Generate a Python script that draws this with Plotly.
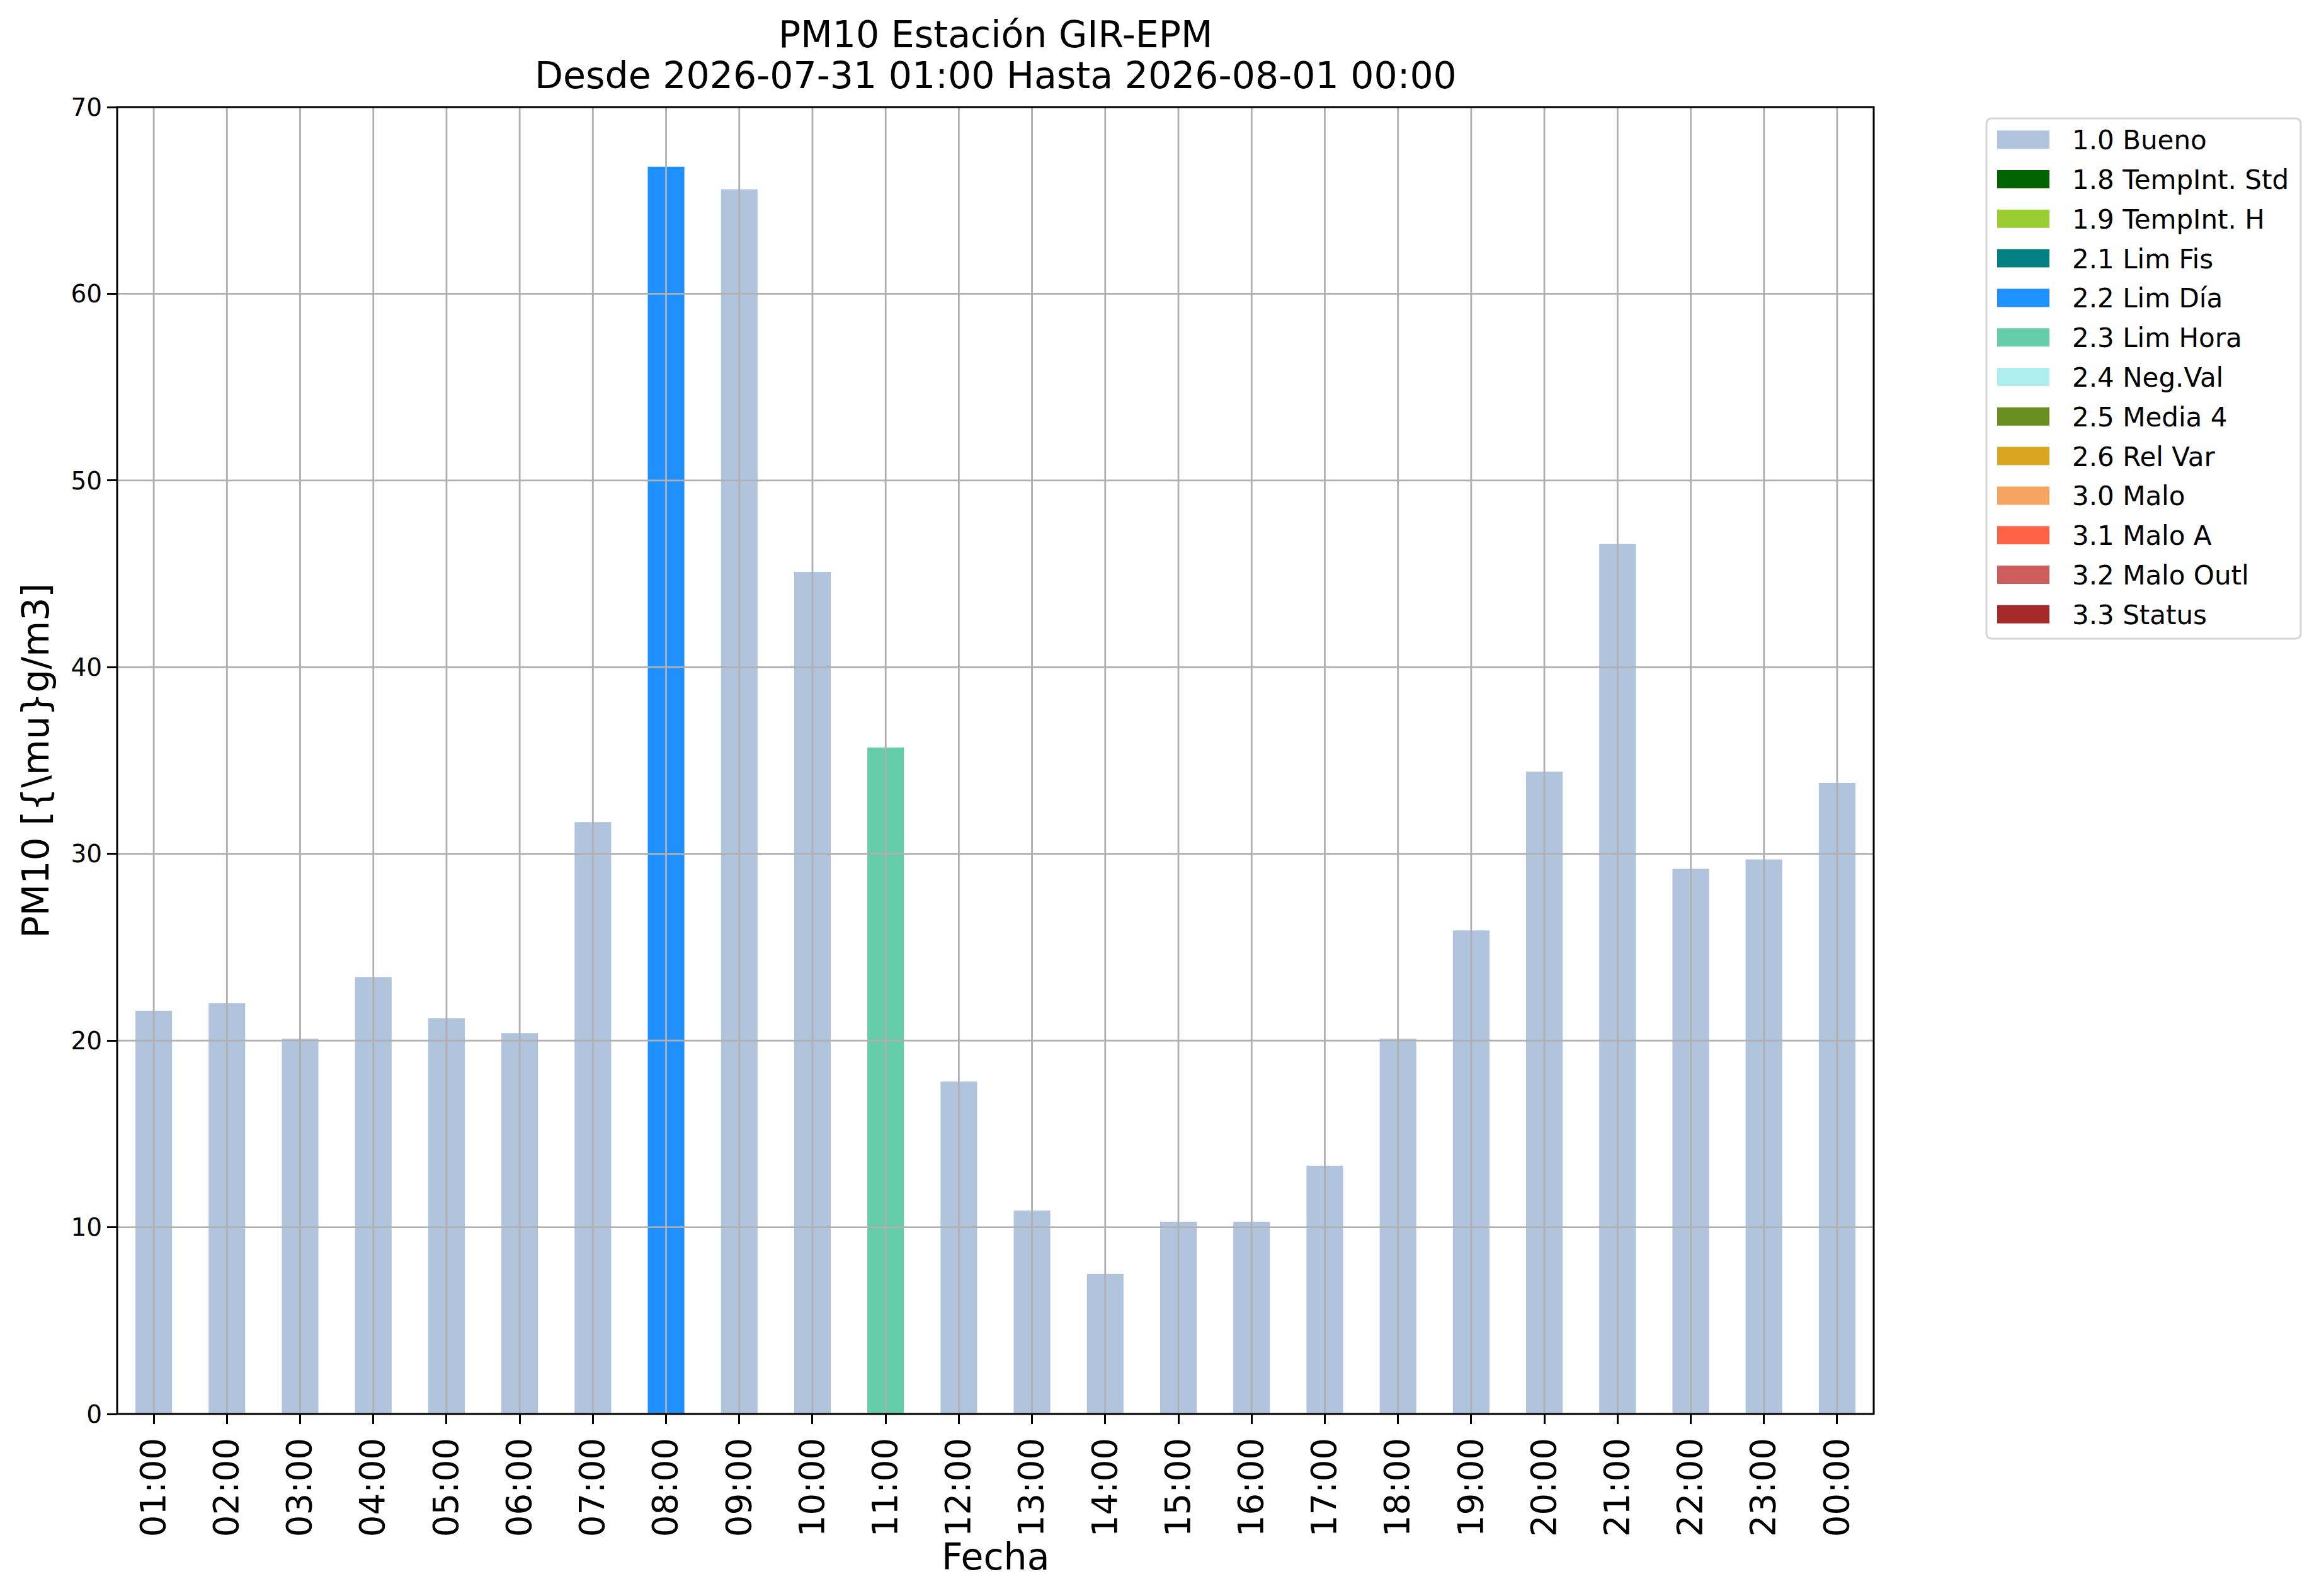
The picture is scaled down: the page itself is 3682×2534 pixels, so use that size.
import plotly.graph_objects as go

# ---------------- data ----------------
hours = ["01:00", "02:00", "03:00", "04:00", "05:00", "06:00", "07:00", "08:00",
         "09:00", "10:00", "11:00", "12:00", "13:00", "14:00", "15:00", "16:00",
         "17:00", "18:00", "19:00", "20:00", "21:00", "22:00", "23:00", "00:00"]
pm10 = [21.6, 22.0, 20.1, 23.4, 21.2, 20.4, 31.7, 66.8,
        65.6, 45.1, 35.7, 17.8, 10.9, 7.5, 10.3, 10.3,
        13.3, 20.1, 25.9, 34.4, 46.6, 29.2, 29.7, 33.8]
flags = ["1.0 Bueno"] * 7 + ["2.2 Lim Día"] + ["1.0 Bueno"] * 2 + ["2.3 Lim Hora"] + ["1.0 Bueno"] * 13

flag_names = ["1.0 Bueno", "1.8 TempInt. Std", "1.9 TempInt. H", "2.1 Lim Fis",
              "2.2 Lim Día", "2.3 Lim Hora", "2.4 Neg.Val", "2.5 Media 4",
              "2.6 Rel Var", "3.0 Malo", "3.1 Malo A", "3.2 Malo Outl", "3.3 Status"]
flag_colors = ["#B0C4DE", "#006400", "#9ACD32", "#008080", "#1E90FF", "#66CDAA",
               "#AFEEEE", "#6B8E23", "#DAA520", "#F4A460", "#FF6347", "#CD5C5C", "#A52A2A"]
y_ticks = [0, 10, 20, 30, 40, 50, 60, 70]

title_1 = "PM10 Estación GIR-EPM"
title_2 = "Desde 2026-07-31 01:00 Hasta 2026-08-01 00:00"
x_label = "Fecha"
y_label = r"PM10 [{\mu}g/m3]"

# ---------------- layout geometry (screen pixels; page body has an 8px margin) ----------------
OFF = 8
W, H = 3682, 2534
L, R, T, B = 186 - OFF, 2975 - OFF, 170 - OFF, 2245 - OFF
PW, PH = R - L, B - T
FONT = "DejaVu Sans"
GRID = "#b0b0b0"


def px_x(px):
    return (px - OFF - L) / PW


def px_y(py):
    return 1 - (py - OFF - T) / PH


fig = go.Figure()
for name, color in zip(flag_names, flag_colors):
    yv = [v if f == name else None for v, f in zip(pm10, flags)]
    fig.add_trace(go.Bar(x=hours, y=yv, name=name, marker=dict(color=color, line=dict(width=0)),
                         width=0.5, showlegend=False))

shapes = []
# grid lines drawn above bars (as in the reference)
for i in range(len(hours)):
    shapes.append(dict(type="line", xref="x", yref="paper", x0=i, x1=i, y0=0, y1=1,
                       line=dict(color=GRID, width=2.8), layer="above"))
for t in y_ticks:
    shapes.append(dict(type="line", xref="paper", yref="y", x0=0, x1=1, y0=t, y1=t,
                       line=dict(color=GRID, width=2.8), layer="above"))
# frame
shapes.append(dict(type="rect", xref="paper", yref="paper", x0=0, x1=1, y0=0, y1=1,
                   line=dict(color="black", width=3), layer="above"))

# custom legend (matplotlib style)
lx0, lx1, ly0, ly1 = 3154, 3653, 188, 1014
r = 9
path = (f"M {px_x(lx0 + r)},{px_y(ly0)} L {px_x(lx1 - r)},{px_y(ly0)} "
        f"Q {px_x(lx1)},{px_y(ly0)} {px_x(lx1)},{px_y(ly0 + r)} "
        f"L {px_x(lx1)},{px_y(ly1 - r)} Q {px_x(lx1)},{px_y(ly1)} {px_x(lx1 - r)},{px_y(ly1)} "
        f"L {px_x(lx0 + r)},{px_y(ly1)} Q {px_x(lx0)},{px_y(ly1)} {px_x(lx0)},{px_y(ly1 - r)} "
        f"L {px_x(lx0)},{px_y(ly0 + r)} Q {px_x(lx0)},{px_y(ly0)} {px_x(lx0 + r)},{px_y(ly0)} Z")
shapes.append(dict(type="path", xref="paper", yref="paper", path=path,
                   line=dict(color="#d6d6d6", width=3), fillcolor="white", layer="above"))

annotations = []
row0, dy = 221.7, 62.8
for k, (name, color) in enumerate(zip(flag_names, flag_colors)):
    cy = row0 + k * dy
    shapes.append(dict(type="rect", xref="paper", yref="paper",
                       x0=px_x(3171), x1=px_x(3254), y0=px_y(cy - 14.5), y1=px_y(cy + 14.5),
                       line=dict(width=0), fillcolor=color, layer="above"))
    annotations.append(dict(text=name, xref="paper", yref="paper", x=px_x(3288), y=px_y(cy + 1),
                            xanchor="left", yanchor="middle", showarrow=False,
                            font=dict(family=FONT, size=42, color="black")))

# titles
annotations.append(dict(text=title_1, xref="paper", yref="paper", x=0.5, y=px_y(55),
                        xanchor="center", yanchor="middle", showarrow=False,
                        font=dict(family=FONT, size=58.5, color="black")))
annotations.append(dict(text=title_2, xref="paper", yref="paper", x=0.5, y=px_y(120),
                        xanchor="center", yanchor="middle", showarrow=False,
                        font=dict(family=FONT, size=58.5, color="black")))
annotations.append(dict(text=x_label, xref="paper", yref="paper", x=0.5, y=px_y(2472),
                        xanchor="center", yanchor="middle", showarrow=False,
                        font=dict(family=FONT, size=58.5, color="black")))
annotations.append(dict(text=y_label, xref="paper", yref="paper", x=px_x(56), y=0.5,
                        xanchor="center", yanchor="middle", showarrow=False, textangle=-90,
                        font=dict(family=FONT, size=58.5, color="black")))

fig.update_layout(
    width=W, height=H,
    margin=dict(l=L, r=W - R, t=T, b=H - B, autoexpand=False),
    paper_bgcolor="white", plot_bgcolor="white",
    barmode="overlay", bargap=0.5,
    font=dict(family=FONT, color="black"),
    shapes=shapes, annotations=annotations,
    xaxis=dict(type="category", range=[-0.5, len(hours) - 0.5], showgrid=False, zeroline=False,
               showline=False, ticks="outside", ticklen=15, tickwidth=3, tickcolor="black",
               tickangle=-90, tickfont=dict(family=FONT, size=54.6, color="black"),
               automargin=False, fixedrange=True),
    yaxis=dict(range=[0, 70], tickvals=y_ticks, ticktext=[str(t) for t in y_ticks],
               showgrid=False, zeroline=False, showline=False, ticks="outside", ticklen=15,
               tickwidth=3, tickcolor="black", tickfont=dict(family=FONT, size=39, color="black"),
               automargin=False, fixedrange=True),
)

fig.write_html("out.html")
